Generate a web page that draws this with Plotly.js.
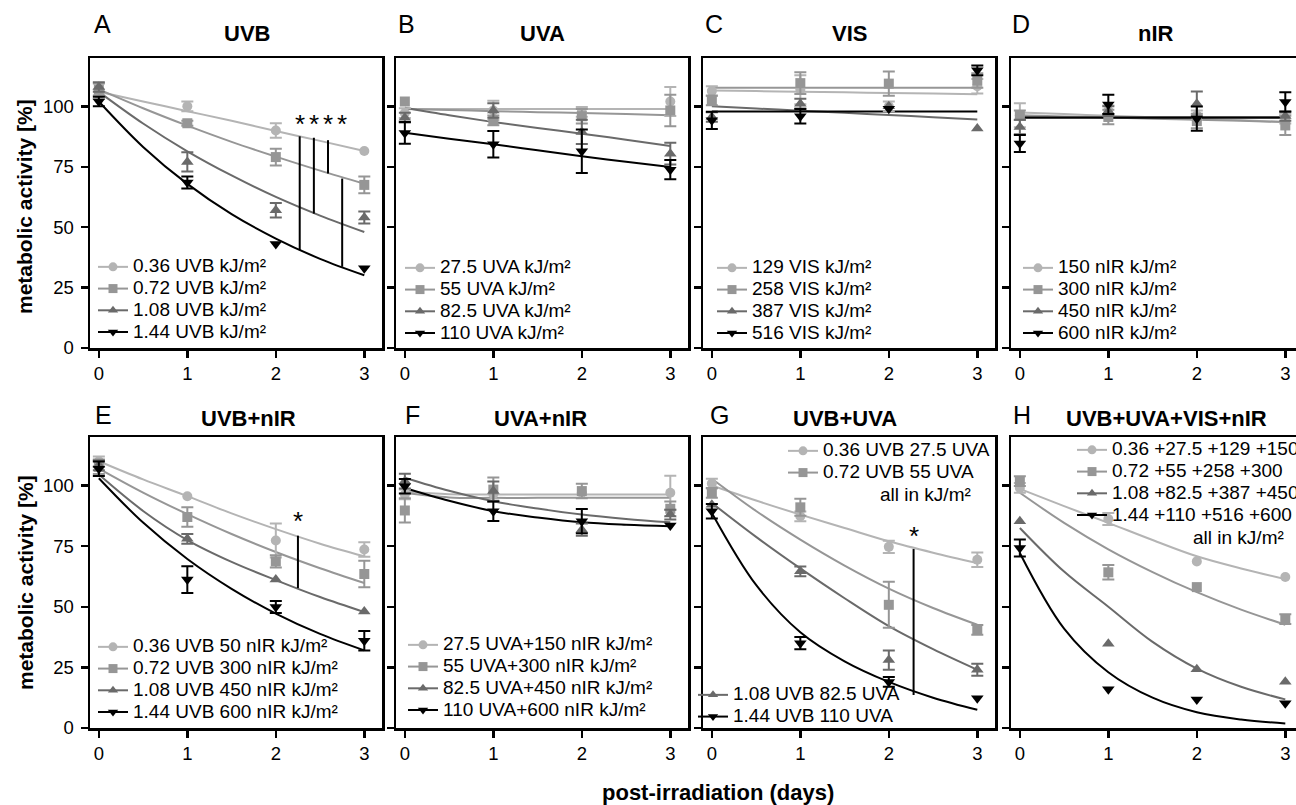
<!DOCTYPE html>
<html><head><meta charset="utf-8">
<script src="https://cdn.plot.ly/plotly-3.0.1.min.js"></script>
<style>html,body{margin:0;padding:0;overflow:hidden;background:#fff;width:1296px;height:805px}#chart{width:1310px;height:805px}</style>
</head><body><div id="chart"></div><script>
// ---------------- data ----------------
const days = [0, 1, 2, 3];
const fitDays = [0, 0.5, 1, 1.5, 2, 2.5, 3];
const xTicks = [0, 1, 2, 3];
const yTicks = [0, 25, 50, 75, 100];
const panelLetters = ['A','B','C','D','E','F','G','H'];
const panelTitles = ['UVB','UVA','VIS','nIR','UVB+nIR','UVA+nIR','UVB+UVA','UVB+UVA+VIS+nIR'];

// A  UVB
const uvbLabels = ['0.36 UVB kJ/m²','0.72 UVB kJ/m²','1.08 UVB kJ/m²','1.44 UVB kJ/m²'];
const uvbMean = [[105,100,90,81.5],[107,93,79,67.5],[108,77,57,54],[102,68.5,43,33]];
const uvbErr  = [[2,2,3,null],[2.5,1,3.5,3.5],[2,4,3,2.5],[2,2.5,null,null]];
const uvbFit  = [[106,102,98,94,89.8,85.7,81.5],[107,99.2,92,85.3,79.2,73.4,68],[106,92.9,81.4,71.4,62.5,54.8,48],[102,83.2,67.9,55.4,45.3,36.9,30.1]];
// B  UVA
const uvaLabels = ['27.5 UVA kJ/m²','55 UVA kJ/m²','82.5 UVA kJ/m²','110 UVA kJ/m²'];
const uvaMean = [[97.2,98.3,97.7,102],[102,94.2,95.9,98.3],[95.3,98.3,89.4,80.4],[89,84.3,81.4,73.8]];
const uvaErr  = [[2,4,2,6],[null,2,3,6.5],[2,3,5,4.5],[4.5,5.5,9,4]];
const uvaFit  = [[98.9,98.9,98.9,98.9,98.9,98.9,98.9],[98.9,98.5,98,97.6,97.2,96.8,96.3],[99.4,96.3,93.5,91,88.7,86.2,83.6],[89.1,86.6,84.3,81.8,79.3,77.1,74.9]];
// C  VIS
const visLabels = ['129 VIS kJ/m²','258 VIS kJ/m²','387 VIS kJ/m²','516 VIS kJ/m²'];
const visMean = [[106.3,106.9,100,108.3],[102.5,109.6,109.4,110.7],[95.6,101.1,100,90.8],[94.2,95.9,99,114.9]];
const visErr  = [[2,6,2,3],[2,4.5,5,3],[2,2,null,null],[3.6,3,null,2]];
const visFit  = [[106.6,106.3,106,105.8,105.5,105.3,105],[107.7,107.7,107.7,107.7,107.7,107.7,107.7],[100,99.1,98.2,97.3,96.4,95.5,94.6],[97.9,97.9,97.9,97.9,97.9,97.9,97.9]];
// D  nIR
const nirLabels = ['150 nIR kJ/m²','300 nIR kJ/m²','450 nIR kJ/m²','600 nIR kJ/m²'];
const nirMean = [[96.3,98.3,96.3,94.9],[96.3,95.6,93.9,92.1],[91.5,98,101.1,96],[84.6,100.8,94.9,101.8]];
const nirErr  = [[5,2,2,2],[2,3,3,4],[3,2,5,2],[3.5,4,5,4]];
const nirFit  = [[97.4,96.8,96.1,95.5,94.8,94.2,93.5],[96.3,95.8,95.4,94.9,94.4,94,93.5],[95.6,95.6,95.6,95.6,95.6,95.6,95.6],[95.3,95.3,95.3,95.3,95.3,95.3,95.3]];
// E  UVB+nIR
const uvbNirLabels = ['0.36 UVB 50 nIR kJ/m²','0.72 UVB 300 nIR kJ/m²','1.08 UVB 450 nIR kJ/m²','1.44 UVB 600 nIR kJ/m²'];
const uvbNirMean = [[110,95.6,77.3,73.6],[107.7,87,68.7,63.5],[108.3,78,61.2,48],[106.9,61.2,49.9,36]];
const uvbNirErr  = [[2,null,7,3],[3,4,2.5,5.5],[2,2,null,null],[3,5.5,2.5,4]];
const uvbNirFit  = [[110,102.5,95.6,88.5,82,76,70.8],[107,97.1,88.2,80,72.6,65.9,59.8],[104.5,89.5,77.5,68.5,61,54,47.8],[103,84.7,69.7,57.4,47.2,38.8,32]];
// F  UVA+nIR
const uvaNirLabels = ['27.5 UVA+150 nIR kJ/m²','55 UVA+300 nIR kJ/m²','82.5 UVA+450 nIR kJ/m²','110 UVA+600 nIR kJ/m²'];
const uvaNirMean = [[96.3,96.5,97,97],[89.7,98.3,97.7,90.4],[101.8,97.7,81.8,88],[99.7,89.4,85.3,83.5]];
const uvaNirErr  = [[2,null,null,7],[5,5,3,3],[3,4,2.5,2],[3,4,5,null]];
const uvaNirFit  = [[97.5,96.4,96.3,96.3,96.3,96.3,96.3],[97,95.1,94.9,94.9,94.9,94.9,94.9],[103.2,97.8,93.5,90.5,88,86.2,84.8],[99,93.7,89.4,86.8,84.8,83.8,83.2]];
// G  UVB+UVA
const uvbUvaLabels = ['0.36 UVB 27.5 UVA','0.72 UVB 55 UVA','1.08 UVB 82.5 UVA','1.44 UVB 110 UVA'];
const uvbUvaMean = [[100.8,87.3,74.7,69.4],[97,91,50.8,40.5],[92.1,64.6,28,24],[89.4,35,19,12.3]];
const uvbUvaErr  = [[2,2,2.5,3],[2,3.5,9.5,2],[null,2,4,2.5],[3,2.5,2,null]];
const uvbUvaFit  = [[100,93.8,88,82.5,77,72.3,68],[102.8,89.5,77.7,67,57.5,49.5,42.6],[92.8,78.8,65.8,53.5,42,32.5,24],[88.7,59,39.5,27.5,19,12.5,7.5]];
// H  UVB+UVA+VIS+nIR
const allLabels = ['0.36 +27.5 +129 +150','0.72 +55 +258 +300','1.08 +82.5 +387 +450','1.44 +110 +516 +600'];
const allMean = [[99,86.2,68.7,62.3],[101.8,64.2,58.1,44.9],[85.3,34.7,24.2,19.1],[74.2,16,11.8,10.2]];
const allErr  = [[2,2.5,null,null],[2,3,null,2],[null,null,null,null],[3.5,null,null,null]];
const allFit  = [[98.6,91.5,84.6,77.5,70.8,65.8,61.4],[97,84.6,73.7,64.3,56,48.8,42.6],[82.5,64.5,50,35.5,24.5,17,11.8],[72.2,41,23,12.5,6.5,3.5,1.9]];
const unitNote = 'all in kJ/m²';

// significance bars (x position, top, bottom, asterisk level)
const sigA_x = [2.27, 2.43, 2.59, 2.75], sigA_top = [87.6, 87.0, 86.0, 70.1], sigA_bot = [40.5, 55.6, 72.2, 33.6], sigA_star = [94, 94, 94, 94];
const sigE_x = [2.25], sigE_top = [79.3], sigE_bot = [57.7], sigE_star = [86.6];
const sigG_x = [2.28], sigG_top = [73.8], sigG_bot = [13.6], sigG_star = [80.4];

// ---------------- styling ----------------
const W = 1310, H = 805;
const px2x = p => p / W;
const px2y = p => 1 - p / H;
const FONT = 'Liberation Sans, Arial, sans-serif';
const colors = ['#b4b4b4', '#969696', '#6a6a6a', '#000000'];
const symbols = ['circle', 'square', 'triangle-up', 'triangle-down'];
const msize = [10, 10, 11, 11];
const colLeft = [90, 396, 703, 1011];
const panelW = 292;
const rowTop = [58, 437], rowBot = [348, 728];

const panels = [
  {labels: uvbLabels, mean: uvbMean, err: uvbErr, fit: uvbFit},
  {labels: uvaLabels, mean: uvaMean, err: uvaErr, fit: uvaFit},
  {labels: visLabels, mean: visMean, err: visErr, fit: visFit},
  {labels: nirLabels, mean: nirMean, err: nirErr, fit: nirFit},
  {labels: uvbNirLabels, mean: uvbNirMean, err: uvbNirErr, fit: uvbNirFit},
  {labels: uvaNirLabels, mean: uvaNirMean, err: uvaNirErr, fit: uvaNirFit},
  {labels: uvbUvaLabels, mean: uvbUvaMean, err: uvbUvaErr, fit: uvbUvaFit},
  {labels: allLabels, mean: allMean, err: allErr, fit: allFit}
];
const sigs = {0: [sigA_x, sigA_top, sigA_bot, sigA_star], 4: [sigE_x, sigE_top, sigE_bot, sigE_star], 6: [sigG_x, sigG_top, sigG_bot, sigG_star]};

// legend placement (px: left, top)
const legendPos = {
  legend: [93, 251], legend2: [400, 252], legend3: [712, 252], legend4: [1018, 252],
  legend5: [93, 631], legend6: [403, 629], legend7: [783, 435], legend8: [1072, 434], legend9: [693, 679]
};
function legendKey(p, s) {
  if (p === 6 && s >= 2) return 'legend9';
  return p === 0 ? 'legend' : 'legend' + (p + 1);
}
const wrap = t => '<span style="font-size:19px">' + t + '</span>';

const traces = [];
const layout = {
  width: W, height: H, autosize: false,
  margin: {l: 0, r: 0, t: 0, b: 0},
  paper_bgcolor: '#fff', plot_bgcolor: 'rgba(0,0,0,0)',
  showlegend: true,
  font: {family: FONT, color: '#000'},
  annotations: [], shapes: []
};

panels.forEach((P, p) => {
  const row = p < 4 ? 0 : 1, col = p % 4;
  const n = p + 1;
  const xa = n === 1 ? 'x' : 'x' + n, ya = n === 1 ? 'y' : 'y' + n;
  const L = colLeft[col];
  layout[n === 1 ? 'xaxis' : 'xaxis' + n] = {
    domain: [px2x(L), px2x(L + panelW)], range: [-0.1, 3.2], anchor: ya,
    tickvals: xTicks, ticktext: xTicks.map(String), ticks: 'outside', ticklen: 7, tickwidth: 2.5, tickcolor: '#000',
    showline: true, linewidth: 2.5, linecolor: '#000', mirror: true, showgrid: false, zeroline: false,
    tickfont: {family: FONT, size: 18.5, color: '#000'}, fixedrange: true
  };
  layout[n === 1 ? 'yaxis' : 'yaxis' + n] = {
    domain: [px2y(rowBot[row]), px2y(rowTop[row])], range: [0, 120], anchor: xa,
    tickvals: yTicks, ticktext: yTicks.map(String), ticks: 'outside', ticklen: 7, tickwidth: 2.5, tickcolor: '#000',
    showticklabels: col === 0, ticklabelstandoff: 3,
    showline: true, linewidth: 2.5, linecolor: '#000', mirror: true, showgrid: false, zeroline: false,
    tickfont: {family: FONT, size: 18.5, color: '#000'}, fixedrange: true
  };
  // fit curves
  P.fit.forEach((f, s) => traces.push({
    x: fitDays, y: f, xaxis: xa, yaxis: ya, mode: 'lines', showlegend: false, hoverinfo: 'skip',
    line: {color: colors[s], width: 2, shape: 'spline', smoothing: 1}
  }));
  // data points with error bars
  P.mean.forEach((m, s) => traces.push({
    x: days, y: m, xaxis: xa, yaxis: ya, mode: 'markers', showlegend: false,
    marker: {symbol: symbols[s], size: msize[s], color: colors[s]},
    error_y: {type: 'data', array: P.err[s].map(v => v === null ? NaN : v), visible: true, color: colors[s], thickness: 2, width: 6}
  }));
  // significance bars and asterisks
  if (sigs[p]) {
    const [sx, st, sb, ss] = sigs[p];
    const lx = [], ly = [];
    sx.forEach((v, i) => { lx.push(v, v, null); ly.push(st[i], sb[i], null); });
    traces.push({x: lx, y: ly, xaxis: xa, yaxis: ya, mode: 'lines', showlegend: false, hoverinfo: 'skip', line: {color: '#000', width: 2}});
    sx.forEach((v, i) => layout.annotations.push({
      x: v, y: ss[i], xref: xa, yref: ya, text: '*', showarrow: false, yshift: -3,
      font: {family: FONT, size: 26, color: '#000'}, xanchor: 'center', yanchor: 'middle'
    }));
  }
  // legend entries
  P.labels.forEach((lab, s) => traces.push({
    x: [null], y: [null], xaxis: xa, yaxis: ya, mode: 'lines+markers', name: wrap(lab),
    legend: legendKey(p, s), showlegend: true, hoverinfo: 'skip',
    line: {color: colors[s], width: 2}, marker: {symbol: symbols[s], size: 9, color: colors[s]}
  }));
});

Object.keys(legendPos).forEach(k => {
  const [lx, ly] = legendPos[k];
  layout[k] = {
    x: px2x(lx), y: px2y(ly), xanchor: 'left', yanchor: 'top', xref: 'paper', yref: 'paper',
    bgcolor: 'rgba(0,0,0,0)', borderwidth: 0, itemwidth: 30, traceorder: 'normal', tracegroupgap: 0,
    font: {family: FONT, size: 14.4, color: '#000'}, itemclick: false, itemdoubleclick: false
  };
});

// panel letters and titles
const letterPos = [[92,24],[396,24],[703,24],[1010,24],[93,415],[403,415],[708,415],[1011,415]];
const titlePos = [[247,34],[542,34],[849,34],[1156,34],[248,418],[540,418],[845,418],[1166,418]];
panelLetters.forEach((t, i) => layout.annotations.push({
  x: px2x(letterPos[i][0]), y: px2y(letterPos[i][1]), xref: 'paper', yref: 'paper', text: t, showarrow: false,
  xanchor: 'left', yanchor: 'middle', font: {family: FONT, size: 25, color: '#000'}
}));
panelTitles.forEach((t, i) => layout.annotations.push({
  x: px2x(titlePos[i][0]), y: px2y(titlePos[i][1]), xref: 'paper', yref: 'paper', text: '<b>' + t + '</b>', showarrow: false,
  xanchor: 'center', yanchor: 'middle', font: {family: FONT, size: 22, color: '#000'}
}));
// unit notes
[[973, 494], [1286, 537]].forEach(pp => layout.annotations.push({
  x: px2x(pp[0]), y: px2y(pp[1]), xref: 'paper', yref: 'paper', text: unitNote, showarrow: false,
  xanchor: 'right', yanchor: 'middle', font: {family: FONT, size: 19, color: '#000'}
}));
// axis titles
[207, 583].forEach(cy => layout.annotations.push({
  x: px2x(25), y: px2y(cy), xref: 'paper', yref: 'paper', text: '<b>metabolic activity [%]</b>', showarrow: false,
  textangle: -90, xanchor: 'center', yanchor: 'middle', font: {family: FONT, size: 21, color: '#000'}
}));
layout.annotations.push({
  x: px2x(718), y: px2y(792), xref: 'paper', yref: 'paper', text: '<b>post-irradiation (days)</b>', showarrow: false,
  xanchor: 'center', yanchor: 'middle', font: {family: FONT, size: 22, color: '#000'}
});

Plotly.newPlot('chart', traces, layout, {displayModeBar: false, staticPlot: true});
</script></body></html>
